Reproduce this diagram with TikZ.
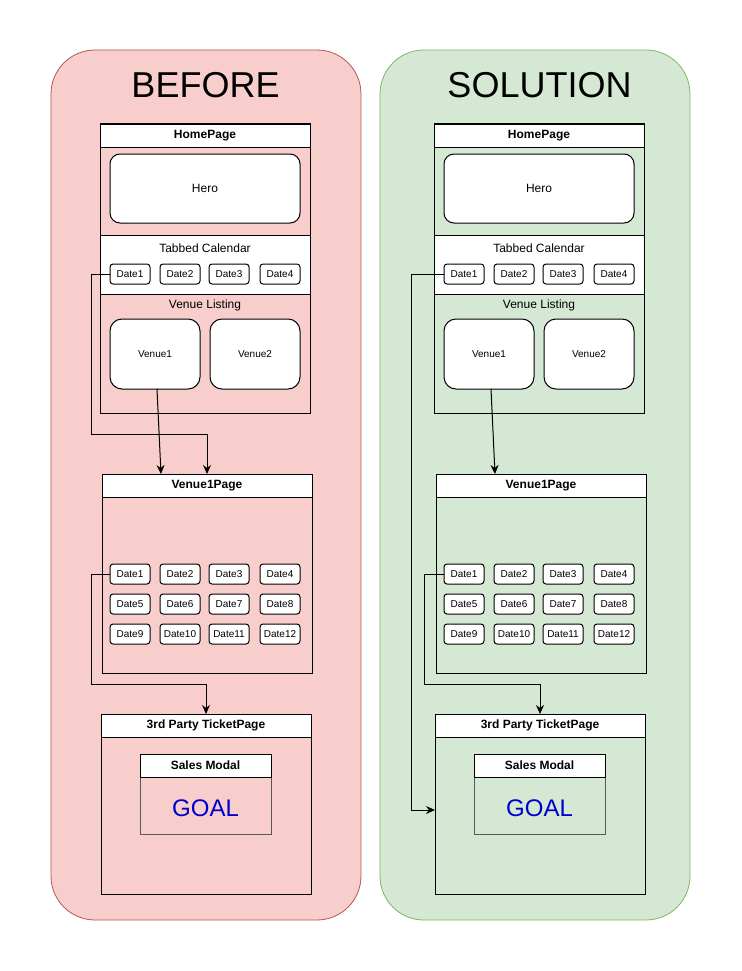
\documentclass[tikz,border=0pt]{standalone}
\usepackage{fontspec}
\setmainfont{Liberation Sans}
\usetikzlibrary{arrows.meta}
\definecolor{redfill}{HTML}{F8CECC}
\definecolor{redline}{HTML}{B85450}
\definecolor{greenfill}{HTML}{D5E8D4}
\definecolor{greenline}{HTML}{82B366}
\definecolor{goalblue}{HTML}{0000CC}
\tikzset{
  frame/.style={draw, line width=1pt, inner sep=0pt, outer sep=0pt},
  bodybox/.style={frame, anchor=north west},
  hdr/.style={frame, fill=white, anchor=north west, minimum height=23pt, font=\bfseries\fontsize{12}{14}\selectfont},
  datebox/.style={frame, fill=white, rounded corners=3pt, minimum width=40pt, minimum height=20pt, font=\fontsize{10}{12}\selectfont},
  card/.style={frame, fill=white, rounded corners=12pt, minimum width=90pt, minimum height=70pt, font=\fontsize{10}{12}\selectfont},
  lbl/.style={font=\fontsize{12}{14}\selectfont, inner sep=0pt},
  paneltitle/.style={font=\fontsize{36}{40}\selectfont, inner sep=0pt},
  arr/.style={line width=1pt, -{Stealth[length=9pt,width=8pt]}},
}
\newcommand\drawpanel[3]{%
\begin{scope}[xshift=#2pt]
  \node[paneltitle] (#1-title) at (205.5,85.5) {#3};
  % HomePage
  \node[bodybox, minimum width=210pt, minimum height=289pt] (#1-hp) at (100,124) {};
  \node[bodybox, fill=white, minimum width=210pt, minimum height=59pt] (#1-tab) at (100,235) {};
  \node[hdr, minimum width=210pt] (#1-hph) at (100,124.5) {HomePage};
  \node[card, rounded corners=10pt, minimum width=190pt, minimum height=69pt, font=\fontsize{12}{14}\selectfont] (#1-hero) at (205,188.5) {Hero\hspace{10pt}};
  \node[lbl] (#1-tabl) at (205,248.5) {Tabbed Calendar};
  \node[datebox] (#1-d1) at (130,274) {Date1};
  \node[datebox] (#1-d2) at (180,274) {Date2};
  \node[datebox] (#1-d3) at (229,274) {Date3};
  \node[datebox] (#1-d4) at (280,274) {Date4};
  \node[lbl] (#1-vl) at (205,305.5) {Venue Listing};
  \node[card] (#1-v1) at (155,354) {Venue1};
  \node[card] (#1-v2) at (255,354) {Venue2};
  % Venue1Page
  \node[bodybox, minimum width=210pt, minimum height=199pt] (#1-vp) at (102,474) {};
  \node[hdr, minimum width=210pt] (#1-vph) at (102,474) {Venue1Page};
  \foreach \i/\cx/\cy in {1/130/574, 2/180/574, 3/229/574, 4/280/574,
                          5/130/604, 6/180/604, 7/229/604, 8/280/604,
                          9/130/634, 10/180/634, 11/229/634, 12/280/634}{
    \node[datebox] (#1-vd\i) at (\cx,\cy) {Date\i};
  }
  % 3rd Party TicketPage
  \node[bodybox, minimum width=210pt, minimum height=180pt] (#1-tp) at (101,714) {};
  \node[hdr, minimum width=210pt] (#1-tph) at (101,714) {3rd Party TicketPage};
  \node[bodybox, draw=black!65, minimum width=131pt, minimum height=80pt] (#1-sm) at (140,754) {};
  \node[hdr, minimum width=131pt] (#1-smh) at (140,754) {Sales Modal};
  \node[inner sep=0pt, text=goalblue, font=\fontsize{24}{28}\selectfont] (#1-goal) at (205.5,808.5) {GOAL};
\end{scope}}
\begin{document}
\begin{tikzpicture}[x=1pt, y=-1pt]
  \fill[white] (0,0) rectangle (741,971);
  \useasboundingbox (0,0) rectangle (741,971);
  \draw[fill=redfill, draw=redline, line width=0.8pt, rounded corners=44pt] (51,50) rectangle (361,920);
  \draw[fill=greenfill, draw=greenline, line width=0.8pt, rounded corners=44pt] (380,50) rectangle (690,920);
  \drawpanel{L}{0}{BEFORE}
  \drawpanel{R}{334}{SOLUTION}
  % left connectors
  \coordinate (L-k1) at (91,434);
  \coordinate (L-t1) at (161,474);
  \coordinate (L-k2) at (91,684);
  \draw[arr] (L-d1.west) -| (L-k1) -| (L-vp.north);
  \draw[arr] ([xshift=2pt]L-v1.south) -- (L-t1);
  \draw[arr] (L-vd1.west) -| (L-k2) -| (L-tp.north);
  % right connectors
  \coordinate (R-k1) at (411,810);
  \coordinate (R-t1) at (495,474);
  \coordinate (R-k2) at (424,684);
  \draw[arr] (R-d1.west) -| (R-k1) -- (R-k1 -| R-tp.west);
  \draw[arr] ([xshift=2pt]R-v1.south) -- (R-t1);
  \draw[arr] (R-vd1.west) -| (R-k2) -| (R-tp.north);
\end{tikzpicture}
\end{document}
